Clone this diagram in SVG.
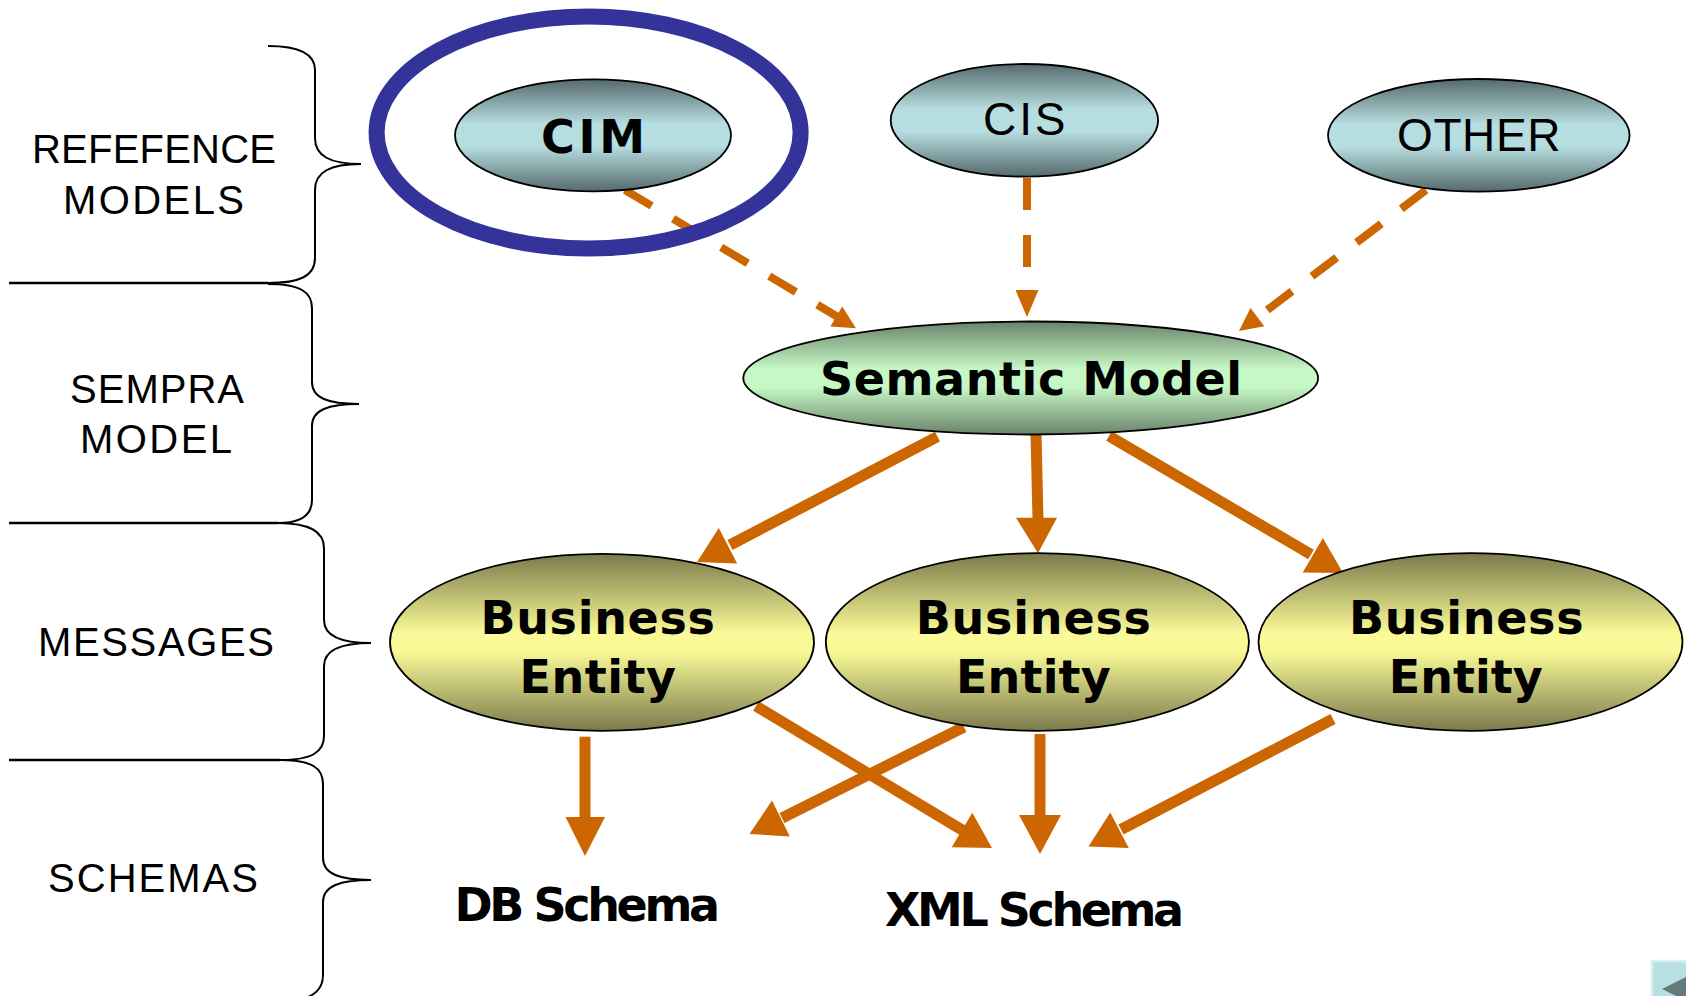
<svg xmlns="http://www.w3.org/2000/svg" width="1686" height="996" viewBox="0 0 1686 996">
<defs>
<linearGradient id="gTeal" x1="0" y1="0" x2="0" y2="1">
<stop offset="0" stop-color="#566a6c"/>
<stop offset="0.4" stop-color="#b6dde0"/>
<stop offset="0.6" stop-color="#b6dde0"/>
<stop offset="1" stop-color="#566a6c"/>
</linearGradient>
<linearGradient id="gGreen" x1="0" y1="0" x2="0" y2="1">
<stop offset="0" stop-color="#6a836a"/>
<stop offset="0.42" stop-color="#c6f8c6"/>
<stop offset="0.58" stop-color="#c6f8c6"/>
<stop offset="1" stop-color="#6a836a"/>
</linearGradient>
<linearGradient id="gYellow" x1="0" y1="0" x2="0" y2="1">
<stop offset="0" stop-color="#7a7a4c"/>
<stop offset="0.45" stop-color="#fafa98"/>
<stop offset="0.55" stop-color="#fafa98"/>
<stop offset="1" stop-color="#7a7a4c"/>
</linearGradient>
</defs>
<style>
.lbl{font-family:"Liberation Sans",Arial,sans-serif;font-size:40px;fill:#000}
.nreg{font-family:"Liberation Sans",Arial,sans-serif;font-size:46px;fill:#000}
.nbold{font-family:"DejaVu Sans",Verdana,sans-serif;font-size:46px;font-weight:bold;fill:#000}
.brace{fill:none;stroke:#000;stroke-width:2}
.rule{fill:none;stroke:#000;stroke-width:2.5}
.node{stroke:#000;stroke-width:1.8}
.solid{stroke:#cc6600;stroke-width:11;fill:none}
.dash{stroke:#cc6600;stroke-width:8;fill:none}
.head{fill:#cc6600}
</style>
<rect width="1686" height="996" fill="#fff"/>

<g id="layers">
<path class="rule" d="M9,283 H268 M9,523 H278 M9,760 H280"/>
<path class="brace" d="M268,46 C300,46 315,54 315,70 V138 C315,156 330,164 361,164 C330,164 315,172 315,190 V258 C315,276 300,283 268,283"/>
<path class="brace" d="M268,284 C300,284 312,292 312,308 V382 C312,398 328,404 359,404 C328,404 312,410 312,426 V500 C312,516 300,523 278,523"/>
<path class="brace" d="M278,523 C310,523 324,532 324,548 V620 C324,636 340,643 371,643 C340,643 324,650 324,666 V736 C324,752 312,760 280,760"/>
<path class="brace" d="M280,760 C312,760 323,768 323,784 V858 C323,874 340,880 371,880 C340,880 323,886 323,902 V975 C323,990 312,998 295,1000"/>
<text class="lbl" x="32" y="163" textLength="244" lengthAdjust="spacing">REFEFENCE</text>
<text class="lbl" x="63" y="214" textLength="181" lengthAdjust="spacing">MODELS</text>
<text class="lbl" x="70" y="403" textLength="174" lengthAdjust="spacing">SEMPRA</text>
<text class="lbl" x="80" y="453" textLength="152" lengthAdjust="spacing">MODEL</text>
<text class="lbl" x="38" y="656" textLength="236" lengthAdjust="spacing">MESSAGES</text>
<text class="lbl" x="48" y="892" textLength="210" lengthAdjust="spacing">SCHEMAS</text>
</g>

<g id="connectors">
<line class="dash" x1="625" y1="190" x2="837" y2="316.5" stroke-dasharray="31 25"/>
<polygon class="head" points="856,328.3 830.4,326.4 842.2,306.6"/>
<line class="dash" x1="1027" y1="178" x2="1027" y2="291" stroke-dasharray="32 25"/>
<polygon class="head" points="1027,317 1015.5,290 1038.5,290"/>
<line class="dash" x1="1426" y1="190" x2="1258" y2="317" stroke-dasharray="31 25"/>
<polygon class="head" points="1239,331 1264.3,326.3 1250.5,307.9"/>

<line class="solid" x1="937.5" y1="436.7" x2="730" y2="545"/>
<polygon class="head" points="697,562 718.8,528.1 737.2,563.5"/>
<line class="solid" x1="1036" y1="433" x2="1038" y2="520"/>
<polygon class="head" points="1038,553.3 1016,517.7 1057,517.7"/>
<line class="solid" x1="1109" y1="436" x2="1311" y2="554.5"/>
<polygon class="head" points="1343,573 1322.9,538 1302.7,572.6"/>

<line class="solid" x1="585" y1="736.7" x2="585" y2="819"/>
<polygon class="head" points="585,856 565.5,817 605,817"/>
<line class="solid" x1="756" y1="706" x2="963" y2="830.5"/>
<polygon class="head" points="992,848 972.3,812.8 951.7,847.2"/>
<line class="solid" x1="964" y1="727" x2="782" y2="818"/>
<polygon class="head" points="749.5,834 772,800.6 789.8,836.4"/>
<line class="solid" x1="1040" y1="734" x2="1040" y2="817"/>
<polygon class="head" points="1040,854 1019,815 1061,815"/>
<line class="solid" x1="1333" y1="719" x2="1121" y2="829.5"/>
<polygon class="head" points="1088.5,846.5 1110.25,812.6 1128.75,848"/>
</g>

<g id="cim">
<ellipse class="node" cx="593" cy="135.3" rx="138" ry="56" fill="url(#gTeal)"/>
<text class="nbold" x="541" y="153" font-size="47" textLength="104" lengthAdjust="spacing">CIM</text>
</g>
<g id="cis">
<ellipse class="node" cx="1024.4" cy="120.3" rx="133.7" ry="56.3" fill="url(#gTeal)"/>
<text class="nreg" x="983" y="134.5" font-size="45" textLength="82.5" lengthAdjust="spacing">CIS</text>
</g>
<g id="other">
<ellipse class="node" cx="1478.8" cy="135.3" rx="150.8" ry="56.3" fill="url(#gTeal)"/>
<text class="nreg" x="1397" y="150.7" textLength="163.5" lengthAdjust="spacing">OTHER</text>
</g>
<g id="semantic">
<ellipse class="node" cx="1030.7" cy="378" rx="287.4" ry="56.5" fill="url(#gGreen)"/>
<text class="nbold" x="820" y="395" textLength="422" lengthAdjust="spacing">Semantic Model</text>
</g>
<g id="be1">
<ellipse class="node" cx="602" cy="642.3" rx="212" ry="88.5" fill="url(#gYellow)"/>
<text class="nbold" x="480.4" y="634" textLength="234.6" lengthAdjust="spacing">Business</text>
<text class="nbold" x="519.5" y="693" textLength="156.5" lengthAdjust="spacing">Entity</text>
</g>
<g id="be2">
<ellipse class="node" cx="1037.4" cy="642" rx="211.6" ry="88.8" fill="url(#gYellow)"/>
<text class="nbold" x="915.7" y="634.3" textLength="235.3" lengthAdjust="spacing">Business</text>
<text class="nbold" x="956" y="692.7" textLength="154.7" lengthAdjust="spacing">Entity</text>
</g>
<g id="be3">
<ellipse class="node" cx="1470.5" cy="642" rx="212" ry="88.8" fill="url(#gYellow)"/>
<text class="nbold" x="1349" y="634" textLength="234.6" lengthAdjust="spacing">Business</text>
<text class="nbold" x="1388.7" y="693" textLength="154.1" lengthAdjust="spacing">Entity</text>
</g>
<g id="dbschema">
<text class="nbold" x="454.5" y="921" font-size="40.5" textLength="265.5" lengthAdjust="spacing">DB Schema</text>
</g>
<g id="xmlschema">
<text class="nbold" x="885" y="925.5" font-size="40.5" textLength="299" lengthAdjust="spacing">XML Schema</text>
</g>

<g id="highlight">
<ellipse cx="588.6" cy="132.5" rx="212" ry="116" fill="none" stroke="#333399" stroke-width="16"/>
</g>

<g id="navbutton">
<rect x="1651" y="960" width="40" height="40" fill="#b8dfe2"/>
<path d="M1652,1000 V961 H1690" fill="none" stroke="#d6eef0" stroke-width="2.5"/>
<polygon points="1662,989 1686,977 1686,1001" fill="#667a7b"/>
</g>
</svg>
